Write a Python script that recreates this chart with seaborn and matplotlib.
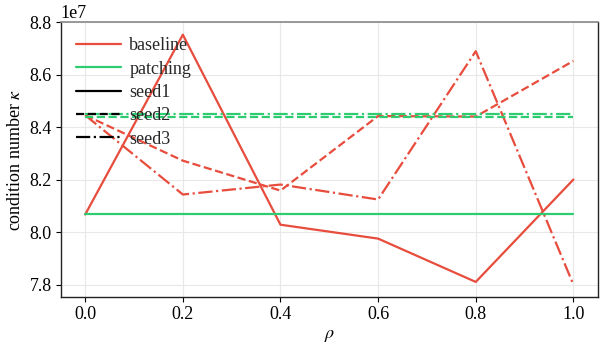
import matplotlib
matplotlib.use("Agg")
import matplotlib.pyplot as plt
from matplotlib.lines import Line2D
import numpy as np
import pandas as pd
import seaborn as sns

rho = [0.0, 0.2, 0.4, 0.6, 0.8, 1.0]

# condition number kappa (x1e7)
baseline_seed1 = [8.067, 8.752, 8.028, 7.975, 7.810, 8.200]
baseline_seed2 = [8.445, 8.272, 8.158, 8.442, 8.440, 8.652]
baseline_seed3 = [8.445, 8.143, 8.181, 8.124, 8.689, 7.800]
patching_seed1 = [8.067, 8.067, 8.067, 8.067, 8.067, 8.067]
patching_seed2 = [8.437, 8.437, 8.437, 8.437, 8.437, 8.437]
patching_seed3 = [8.449, 8.449, 8.449, 8.449, 8.449, 8.449]

methods = ["baseline", "patching"]
seeds = ["seed1", "seed2", "seed3"]

series = {
    ("baseline", "seed1"): baseline_seed1,
    ("baseline", "seed2"): baseline_seed2,
    ("baseline", "seed3"): baseline_seed3,
    ("patching", "seed1"): patching_seed1,
    ("patching", "seed2"): patching_seed2,
    ("patching", "seed3"): patching_seed3,
}

rows = []
for (m, s), vals in series.items():
    for r, v in zip(rho, vals):
        rows.append({"rho": r, "kappa": v * 1e7, "method": m, "seed": s})
df = pd.DataFrame(rows)

sns.set_theme(style="whitegrid")
plt.rcParams["font.family"] = ["Liberation Serif", "DejaVu Serif"]
plt.rcParams["mathtext.fontset"] = "stix"

palette = {"baseline": "#e74c3c", "patching": "#2ecc71"}
dashes = {"seed1": "", "seed2": (3.7, 1.6), "seed3": (6.4, 1.6, 1.0, 1.6)}

fig = plt.figure(figsize=(6.02, 3.45), dpi=100)
ax = fig.add_axes([0.101, 0.139, 0.892, 0.797])

sns.lineplot(data=df, x="rho", y="kappa", hue="method", style="seed",
             palette=palette, dashes=dashes, hue_order=methods,
             style_order=seeds, linewidth=1.6, legend=False, ax=ax,
             sort=False, estimator=None)

ax.set_xlabel(r"$\rho$", fontsize=13, color="black", labelpad=3)
ax.set_ylabel(r"condition number $\kappa$", fontsize=13, color="black")
ax.set_xticks([0.0, 0.2, 0.4, 0.6, 0.8, 1.0])
ax.set_yticks([7.8e7, 8.0e7, 8.2e7, 8.4e7, 8.6e7, 8.8e7])
ax.tick_params(axis="both", labelsize=13, colors="black", length=3.5,
               width=0.8, direction="out", left=True, bottom=True, pad=3)
ax.yaxis.get_offset_text().set_fontsize(13)
ax.grid(True, color="#e8e8e8", linewidth=0.8)

for side in ["left", "bottom", "right"]:
    ax.spines[side].set_color("#222222")
    ax.spines[side].set_linewidth(1.0)
ax.spines["top"].set_color("#888888")
ax.spines["top"].set_linewidth(1.2)

handles = [
    Line2D([], [], color=palette["baseline"], lw=1.6),
    Line2D([], [], color=palette["patching"], lw=1.6),
    Line2D([], [], color="black", lw=1.6, linestyle="-"),
    Line2D([], [], color="black", lw=1.6, linestyle=(0, dashes["seed2"])),
    Line2D([], [], color="black", lw=1.6, linestyle=(0, dashes["seed3"])),
]
ax.legend(handles, ["baseline", "patching"] + seeds, loc="upper left",
          frameon=False, fontsize=13, handlelength=2.5, handletextpad=0.45,
          labelspacing=0.35, borderaxespad=0.45)

fig.savefig("out.png", dpi=100)
